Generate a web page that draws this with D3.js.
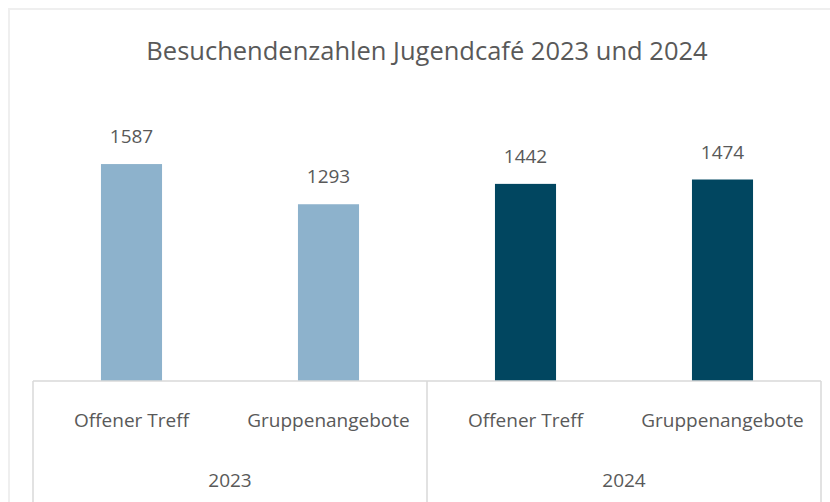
<!DOCTYPE html>
<html>
<head>
<meta charset="utf-8">
<script src="https://cdn.jsdelivr.net/npm/d3@7"></script>
<style>
  body { margin: 0; background: #fff; }
  text { font-family: "Open Sans", sans-serif; fill: #595959; }
</style>
</head>
<body>
<script>
// chart data
const years = ["2023", "2024"];
const categories = ["Offener Treff", "Gruppenangebote"];
const values2023 = [1587, 1293];
const values2024 = [1442, 1474];
const barColors = ["#8db2cc", "#014660"];

// flatten into one row per bar
const rows = [];
years.forEach((y, yi) => {
    const vals = yi === 0 ? values2023 : values2024;
    categories.forEach((c, ci) => {
        rows.push({ key: y + "|" + c, year: y, yi: yi, cat: c, value: vals[ci] });
    });
});

const width = 830, height = 502;
const svg = d3.select("body").append("svg")
    .attr("width", width)
    .attr("height", height);

// outer chart frame
svg.append("rect")
    .attr("x", 9).attr("y", 9)
    .attr("width", width).attr("height", height)
    .attr("fill", "none")
    .attr("stroke", "#efefef")
    .attr("stroke-width", 2);

// title
svg.append("text")
    .attr("x", 427).attr("y", 60)
    .attr("text-anchor", "middle")
    .attr("font-size", 25.5)
    .text("Besuchendenzahlen Jugendcafé 2023 und 2024");

// scales
const left = 33, right = 821, base = 381;
const x = d3.scaleBand()
    .domain(rows.map(d => d.key))
    .range([left, right])
    .paddingInner(0.69)
    .paddingOuter(0.345);

const yScale = d3.scaleLinear()
    .domain([0, 1800])
    .range([base, base - 1800 * 0.1367]);

// bars
svg.selectAll("rect.bar")
    .data(rows)
    .enter()
    .append("rect")
    .attr("class", "bar")
    .attr("x", d => x(d.key))
    .attr("y", d => yScale(d.value))
    .attr("width", x.bandwidth())
    .attr("height", d => base - yScale(d.value))
    .attr("fill", d => barColors[d.yi]);

// value labels
svg.selectAll("text.val")
    .data(rows)
    .enter()
    .append("text")
    .attr("class", "val")
    .attr("x", d => x(d.key) + x.bandwidth() / 2)
    .attr("y", d => yScale(d.value) - 21)
    .attr("text-anchor", "middle")
    .attr("font-size", 19)
    .text(d => d.value);

// category axis box
const step = x.step();
const axisColor = "#d9d9d9";
svg.append("line")
    .attr("x1", left).attr("x2", right)
    .attr("y1", base).attr("y2", base)
    .attr("stroke", axisColor).attr("stroke-width", 1.5);

const groupEdges = [left, left + 2 * step, right];
svg.selectAll("line.sep")
    .data(groupEdges)
    .enter()
    .append("line")
    .attr("class", "sep")
    .attr("x1", d => d).attr("x2", d => d)
    .attr("y1", base).attr("y2", height)
    .attr("stroke", axisColor).attr("stroke-width", 1.5);

// category labels
svg.selectAll("text.cat")
    .data(rows)
    .enter()
    .append("text")
    .attr("class", "cat")
    .attr("x", d => x(d.key) + x.bandwidth() / 2)
    .attr("y", 427)
    .attr("text-anchor", "middle")
    .attr("font-size", 19)
    .text(d => d.cat);

// year labels
svg.selectAll("text.year")
    .data(years)
    .enter()
    .append("text")
    .attr("class", "year")
    .attr("x", (d, i) => left + step * (2 * i + 1))
    .attr("y", 487)
    .attr("text-anchor", "middle")
    .attr("font-size", 19)
    .text(d => d);
</script>
</body>
</html>
